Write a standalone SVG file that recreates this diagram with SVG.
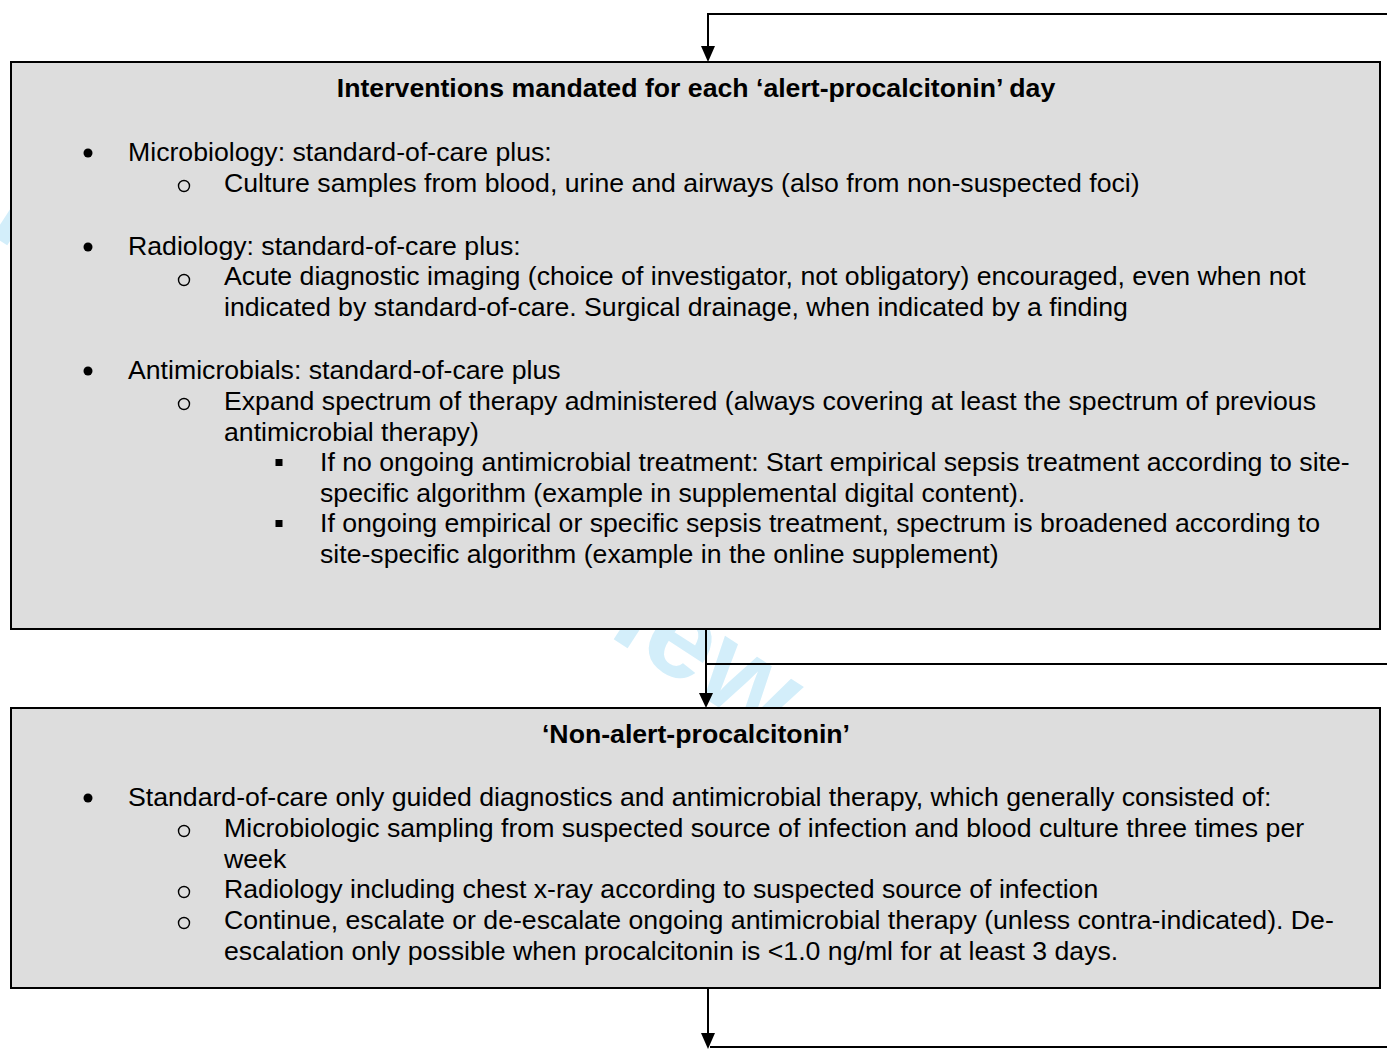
<svg xmlns="http://www.w3.org/2000/svg" width="1387" height="1049" viewBox="0 0 1387 1049">
<style>
.box{fill:#dddddd;stroke:#000;stroke-width:2}
.t{font-family:"Liberation Sans",Arial,sans-serif;font-size:26.67px;fill:#000}
.b{font-weight:bold}
.ln{stroke:#000;stroke-width:2;fill:none}
.dot{fill:#000}
.ring{fill:none;stroke:#000;stroke-width:1.4}
.wm{font-family:"Liberation Sans",Arial,sans-serif;font-size:120px;font-weight:bold;fill:#d3eefa}
</style>
<text class="wm" x="769" y="740" text-anchor="end" transform="rotate(33 769 740)">For Peer Review</text>
<g id="connectors">
<path class="ln" d="M1387,14 H708 V46"/>
<path d="M701,46 L715,46 L708,62 Z" fill="#000"/>
<path class="ln" d="M706,629 V693"/>
<path d="M699,693 L713,693 L706,708 Z" fill="#000"/>
<path class="ln" d="M707,664 H1387"/>
<path class="ln" d="M708,985 V1033"/>
<path d="M701,1033 L715,1033 L708,1049 Z" fill="#000"/>
<path class="ln" d="M710,1047 H1387"/>
</g>
<g id="node-alert">
<rect class="box" x="11" y="62" width="1369" height="567"/>
<text class="t b" x="696" y="97" text-anchor="middle">Interventions mandated for each ‘alert-procalcitonin’ day</text>
<circle class="dot" cx="88" cy="153" r="4.5"/>
<text class="t" x="128" y="161">Microbiology: standard-of-care plus:</text>
<circle class="ring" cx="184" cy="186" r="5.5"/>
<text class="t" x="224" y="192">Culture samples from blood, urine and airways (also from non-suspected foci)</text>
<circle class="dot" cx="88" cy="247" r="4.5"/>
<text class="t" x="128" y="255">Radiology: standard-of-care plus:</text>
<circle class="ring" cx="184" cy="280" r="5.5"/>
<text class="t" x="224" y="285">Acute diagnostic imaging (choice of investigator, not obligatory) encouraged, even when not</text>
<text class="t" x="224" y="316">indicated by standard-of-care. Surgical drainage, when indicated by a finding</text>
<circle class="dot" cx="88" cy="371" r="4.5"/>
<text class="t" x="128" y="379">Antimicrobials: standard-of-care plus</text>
<circle class="ring" cx="184" cy="404" r="5.5"/>
<text class="t" x="224" y="410">Expand spectrum of therapy administered (always covering at least the spectrum of previous</text>
<text class="t" x="224" y="441">antimicrobial therapy)</text>
<rect class="dot" x="275.5" y="459" width="7" height="7"/>
<text class="t" x="320" y="471">If no ongoing antimicrobial treatment: Start empirical sepsis treatment according to site-</text>
<text class="t" x="320" y="502">specific algorithm (example in supplemental digital content).</text>
<rect class="dot" x="275.5" y="520" width="7" height="7"/>
<text class="t" x="320" y="532">If ongoing empirical or specific sepsis treatment, spectrum is broadened according to</text>
<text class="t" x="320" y="563">site-specific algorithm (example in the online supplement)</text>
</g>
<g id="node-nonalert">
<rect class="box" x="11" y="708" width="1369" height="280"/>
<text class="t b" x="696" y="743" text-anchor="middle">‘Non-alert-procalcitonin’</text>
<circle class="dot" cx="88" cy="798" r="4.5"/>
<text class="t" x="128" y="806">Standard-of-care only guided diagnostics and antimicrobial therapy, which generally consisted of:</text>
<circle class="ring" cx="184" cy="831" r="5.5"/>
<text class="t" x="224" y="837">Microbiologic sampling from suspected source of infection and blood culture three times per</text>
<text class="t" x="224" y="868">week</text>
<circle class="ring" cx="184" cy="892" r="5.5"/>
<text class="t" x="224" y="898">Radiology including chest x-ray according to suspected source of infection</text>
<circle class="ring" cx="184" cy="923" r="5.5"/>
<text class="t" x="224" y="929">Continue, escalate or de-escalate ongoing antimicrobial therapy (unless contra-indicated). De-</text>
<text class="t" x="224" y="960">escalation only possible when procalcitonin is &lt;1.0 ng/ml for at least 3 days.</text>
</g>
</svg>
